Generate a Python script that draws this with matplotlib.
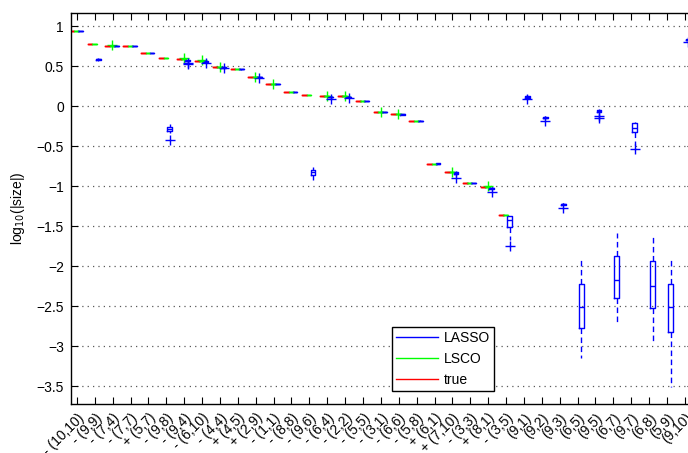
import matplotlib
matplotlib.use('Agg')
import matplotlib.pyplot as plt
from matplotlib.lines import Line2D

plt.rcParams['font.family'] = ['Liberation Sans', 'DejaVu Sans']
plt.rcParams['font.size'] = 10

# ---------------- data ----------------
pairs = ['(10,10)', '(9,9)', '(7,4)', '(7,7)', '(5,7)', '(9,8)', '(9,4)', '(6,10)',
         '(4,4)', '(4,5)', '(2,9)', '(1,1)', '(8,8)', '(9,6)', '(6,4)', '(2,2)',
         '(5,5)', '(3,1)', '(6,6)', '(5,8)', '(6,1)', '(7,10)', '(3,3)', '(8,1)',
         '(3,5)', '(9,1)', '(9,2)', '(9,3)', '(6,5)', '(9,5)', '(6,7)', '(9,7)',
         '(6,8)', '(5,9)', '(9,10)']
signs = ['-', '-', '-', '-', '+', '-', '-', '-', '-', '+', '+', '-', '-', '-', '-', '-',
         '-', '-', '-', '-', '+', '+', '-', '+', '-',
         '', '', '', '', '', '', '', '', '', '']

true_vals = [0.94, 0.78, 0.755, 0.75, 0.665, 0.605, 0.59, 0.565, 0.49, 0.46, 0.365,
             0.275, 0.175, 0.135, 0.125, 0.12, 0.065, -0.07, -0.1, -0.185, -0.73,
             -0.82, -0.96, -1.01, -1.36]

lsco_med = [0.94, 0.78, 0.755, 0.75, 0.665, 0.605, 0.59, 0.565, 0.49, 0.46, 0.365,
            0.275, 0.175, 0.135, 0.125, 0.12, 0.065, -0.07, -0.1, -0.185, -0.73,
            -0.82, -0.96, -1.01, -1.36]
lsco_fliers = [[], [], [0.76], [], [], [], [0.605], [0.57], [0.49], [], [0.365],
               [0.275], [], [], [0.125], [0.12], [], [-0.07], [-0.1], [], [],
               [-0.82], [], [-1.0], []]

lasso_med = [0.94, 0.583, 0.752, 0.75, 0.665, -0.29, 0.565, 0.555, 0.483, 0.458, 0.36,
             0.272, 0.175, -0.83, 0.11, 0.112, 0.062, -0.075, -0.105, -0.185, -0.72,
             -0.84, -0.962, -1.03, -1.42, 0.115, -0.145, -1.23, -2.51, -0.06, -2.17,
             -0.27, -2.25, -2.51, 0.83]
lasso_q1 = [0.94, 0.577, 0.75, 0.748, 0.664, -0.315, 0.56, 0.552, 0.48, 0.457, 0.357,
            0.27, 0.174, -0.86, 0.107, 0.11, 0.061, -0.077, -0.107, -0.188, -0.723,
            -0.855, -0.964, -1.04, -1.51, 0.105, -0.152, -1.24, -2.78, -0.075, -2.40,
            -0.33, -2.53, -2.83, 0.82]
lasso_q3 = [0.94, 0.59, 0.754, 0.752, 0.666, -0.265, 0.572, 0.56, 0.487, 0.46, 0.363,
            0.274, 0.176, -0.80, 0.113, 0.114, 0.063, -0.073, -0.103, -0.182, -0.717,
            -0.825, -0.96, -1.022, -1.38, 0.125, -0.135, -1.22, -2.23, -0.045, -1.875,
            -0.21, -1.94, -2.23, 0.84]
lasso_lo = [0.94, 0.565, 0.75, 0.748, 0.664, -0.34, 0.555, 0.548, 0.478, 0.456, 0.355,
            0.27, 0.174, -0.925, 0.105, 0.108, 0.06, -0.08, -0.11, -0.19, -0.725,
            -0.87, -0.966, -1.05, -1.67, 0.1, -0.16, -1.25, -3.15, -0.085, -2.71,
            -0.49, -2.96, -3.51, 0.81]
lasso_hi = [0.94, 0.595, 0.755, 0.752, 0.666, -0.225, 0.575, 0.563, 0.49, 0.461, 0.365,
            0.275, 0.176, -0.76, 0.115, 0.115, 0.064, -0.07, -0.1, -0.18, -0.715,
            -0.815, -0.958, -1.015, -1.37, 0.135, -0.13, -1.21, -1.925, -0.04, -1.59,
            -0.2, -1.63, -1.925, 0.845]
lasso_fliers = [[], [], [], [], [], [-0.43], [0.53, 0.54], [0.535], [0.47], [], [0.345],
                [], [], [], [0.09], [0.1], [], [], [], [], [], [-0.9], [], [-1.07],
                [-1.75], [0.085], [-0.185], [-1.27], [], [-0.13, -0.15], [], [-0.54],
                [], [], [0.8]]

series_names = ['LASSO', 'LSCO', 'true']
series_colors = ['#0000ff', '#00ff00', '#ff0000']

# ---------------- layout ----------------
W, H = 688, 453
ppu = 17.88
xlo, xhi = 0.67, 35.5
ax_l, ax_t, ax_b = 71, 13.3, 404
ax_w = (xhi - xlo) * ppu

fig = plt.figure(figsize=(W / 100, H / 100), dpi=100)
ax = fig.add_axes([ax_l / W, 1 - ax_b / H, ax_w / W, (ax_b - ax_t) / H])


def make_stats(med, q1, q3, lo, hi, fl):
    return [dict(med=m, q1=a, q3=b, whislo=l, whishi=h, fliers=f)
            for m, a, b, l, h, f in zip(med, q1, q3, lo, hi, fl)]


def draw(stats, positions, color):
    ax.bxp(stats, positions=positions, widths=0.27, showcaps=False,
           boxprops=dict(color=color, linewidth=1.0),
           medianprops=dict(color=color, linewidth=1.0),
           whiskerprops=dict(color=color, linestyle=(0, (4, 2.5)), linewidth=1.0),
           flierprops=dict(marker='+', markeredgecolor=color, markersize=7,
                           markeredgewidth=1.0, linestyle='none'),
           manage_ticks=False)


n_true = len(true_vals)
true_stats = make_stats(true_vals, true_vals, true_vals, true_vals, true_vals,
                        [[] for _ in true_vals])
lsco_stats = make_stats(lsco_med, lsco_med, lsco_med, lsco_med, lsco_med, lsco_fliers)
lasso_stats = make_stats(lasso_med, lasso_q1, lasso_q3, lasso_lo, lasso_hi, lasso_fliers)

draw(true_stats, [i + 1 - 0.27 for i in range(n_true)], series_colors[2])
draw(lsco_stats, [i + 1 - 0.02 for i in range(n_true)], series_colors[1])
draw(lasso_stats, [i + 1 + 0.2 for i in range(len(lasso_med))], series_colors[0])

ax.set_xlim(xlo, xhi)
ax.set_ylim(-3.725, 1.159)
ax.set_yticks([1, 0.5, 0, -0.5, -1, -1.5, -2, -2.5, -3, -3.5])
ax.set_yticklabels(['1', '0.5', '0', '\u22120.5', '\u22121', '\u22121.5', '\u22122',
                    '\u22122.5', '\u22123', '\u22123.5'])
ax.yaxis.grid(True, linestyle=(0, (1, 3.3)), color='0.35', linewidth=0.9)
ax.set_axisbelow(True)

labels = [(s + ' ' + p) if s else p for s, p in zip(signs, pairs)]
ax.set_xticks(range(1, len(pairs) + 1))
ax.set_xticklabels(labels, rotation=45, ha='right', rotation_mode='anchor')
ax.tick_params(direction='in', top=True, right=True, length=5, width=0.8, pad=5)
for s in ax.spines.values():
    s.set_linewidth(1.0)

ax.set_ylabel('log$_{10}$(|size|)')
ax.yaxis.set_label_coords((27 - ax_l) / ax_w, 0.5)

handles = [Line2D([], [], color=c, lw=1.0) for c in series_colors]
leg = ax.legend(handles, series_names, loc='upper left',
                bbox_to_anchor=(391.7 / W, 1 - 326.7 / H), bbox_transform=fig.transFigure,
                fancybox=False, framealpha=1, edgecolor='black', borderaxespad=0,
                handlelength=3.0, handletextpad=0.45, labelspacing=0.5,
                borderpad=0.3, fontsize=10)
leg.get_frame().set_linewidth(1.0)

fig.savefig('out.png', dpi=100)
